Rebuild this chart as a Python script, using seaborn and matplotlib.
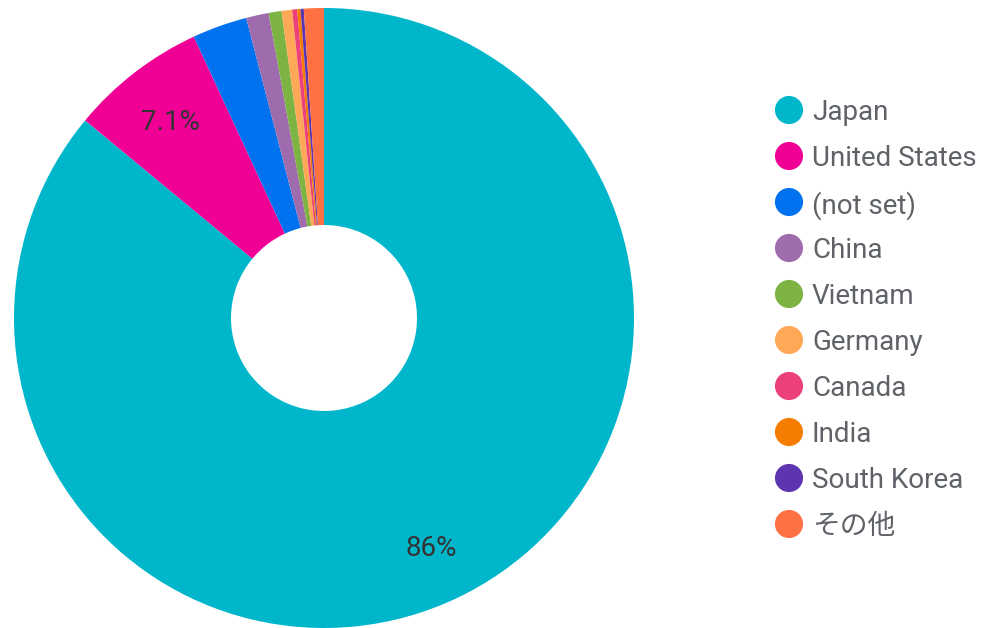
import matplotlib
matplotlib.use("Agg")
import matplotlib.pyplot as plt
import seaborn as sns

countries = ["Japan", "United States", "(not set)", "China", "Vietnam",
             "Germany", "Canada", "India", "South Korea", "その他"]
shares = [86.0, 7.1, 2.86, 1.18, 0.67, 0.55, 0.26, 0.17, 0.17, 1.04]
colors = ["#00b6cb", "#f10096", "#0072f0", "#9e6bad", "#7cb342",
          "#ffa858", "#ec407a", "#f57c00", "#5e35b1", "#ff7043"]

sns.set_theme(style="white")
plt.rcParams["font.family"] = ["Roboto", "Noto Sans CJK JP", "DejaVu Sans"]

W, H = 982, 628
fig = plt.figure(figsize=(W / 100, H / 100), dpi=100)

# pie axes: centre (324,318), radius 310 px
cx, cy, r = 324, 318, 310
ax = fig.add_axes([(cx - r) / W, (H - cy - r) / H, 2 * r / W, 2 * r / H])
ax.set_aspect("equal")

def fmt(p):
    if p < 5:
        return ""
    return f"{p:.1f}%" if p < 10 else f"{p:.0f}%"

wedges, texts, autotexts = ax.pie(
    shares, colors=colors, startangle=90, counterclock=False,
    autopct=fmt, pctdistance=0.81, radius=1.0,
    wedgeprops=dict(width=0.7, linewidth=0),
    textprops=dict(fontsize=20, color="#333333"),
)
for t in autotexts:
    t.set_va("center_baseline")
ax.set_xlim(-1, 1)
ax.set_ylim(-1, 1)
ax.axis("off")

# legend drawn in a pixel-space overlay axes
lax = fig.add_axes([0, 0, 1, 1])
lax.set_xlim(0, W)
lax.set_ylim(H, 0)
lax.axis("off")
y0, dy = 110, 46
ys = [y0 + i * dy for i in range(len(countries))]
lax.scatter([789] * len(countries), ys, s=410, c=colors, linewidths=0)
for name, y in zip(countries, ys):
    lax.text(812, y, name, fontsize=20, color="#5f6368",
             va="center_baseline", ha="left")

fig.savefig("out.png", dpi=100)
